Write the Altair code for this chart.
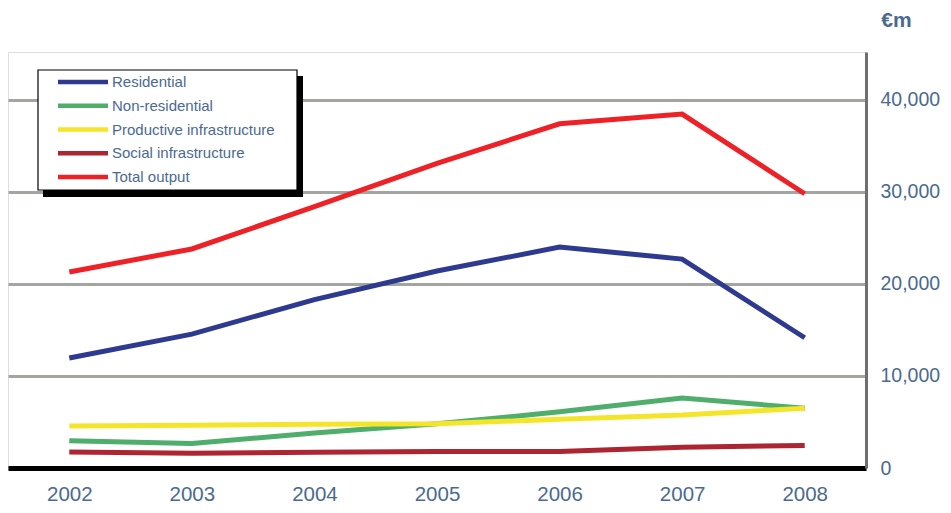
import altair as alt
import pandas as pd

years = ["2002", "2003", "2004", "2005", "2006", "2007", "2008"]
series_names = ["Residential", "Non-residential", "Productive infrastructure",
                "Social infrastructure", "Total output"]
series_colors = ["#2e3a8f", "#4fae6c", "#f5e52a", "#ac2530", "#ee2127"]

residential = [11950, 14550, 18300, 21400, 24000, 22700, 14150]
non_residential = [2950, 2650, 3800, 4800, 6100, 7600, 6500]
productive = [4550, 4650, 4750, 4800, 5300, 5750, 6500]
social = [1750, 1600, 1700, 1800, 1800, 2250, 2450]
total_output = [21300, 23800, 28400, 33100, 37400, 38450, 29800]

values = [residential, non_residential, productive, social, total_output]

rows = []
for name, vals in zip(series_names, values):
    for y, v in zip(years, vals):
        rows.append({"year": y, "series": name, "value": v})
df = pd.DataFrame(rows)

legend_df = pd.DataFrame({"series": series_names, "row": list(range(len(series_names)))})

text_color = "#4b6a8f"
color_scale = alt.Scale(domain=series_names, range=series_colors)

lines = alt.Chart(df).mark_line(strokeWidth=5).encode(
    x=alt.X("year:O", sort=years,
            axis=alt.Axis(title=None, labelAngle=0, ticks=False, domain=True,
                          domainColor="#000000", domainWidth=5, grid=False,
                          labelFontSize=20.5, labelColor=text_color, labelPadding=16,
                          labelFont="Liberation Sans")),
    y=alt.Y("value:Q", scale=alt.Scale(domain=[0, 45200], nice=False),
            axis=alt.Axis(orient="right", values=[0, 10000, 20000, 30000, 40000],
                          format=",.0f", ticks=False, domain=True, domainColor="#6e706e",
                          domainWidth=3, grid=True, gridColor="#a2a6a0", gridWidth=3,
                          labelAlign="left", labelPadding=14, labelFontSize=19.5,
                          labelColor=text_color, labelFont="Liberation Sans",
                          title="€m", titleAngle=0, titleX=30, titleY=-32,
                          titleAlign="center", titleBaseline="middle",
                          titleFontSize=21, titleFontWeight="bold",
                          titleColor=text_color, titleFont="Liberation Sans")),
    color=alt.Color("series:N", scale=color_scale, legend=None),
    order=alt.Order("series:N"),
)

one = pd.DataFrame({"a": [0]})
shadow = alt.Chart(one).mark_rect(fill="#000000").encode(
    x=alt.value(35), x2=alt.value(295), y=alt.value(24), y2=alt.value(145))
box = alt.Chart(one).mark_rect(fill="#ffffff", stroke="#000000", strokeWidth=1.2).encode(
    x=alt.value(30), x2=alt.value(289), y=alt.value(18), y2=alt.value(138))

leg_y = alt.Y("row:Q", scale=alt.Scale(domain=[0, 4], range=[30, 125]), axis=None)
leg_lines = alt.Chart(legend_df).mark_rule(strokeWidth=4.5).encode(
    x=alt.value(50), x2=alt.value(100), y=leg_y,
    color=alt.Color("series:N", scale=color_scale, legend=None))
leg_text = alt.Chart(legend_df).mark_text(
    align="left", baseline="middle", fontSize=15, color=text_color,
    font="Liberation Sans").encode(
    x=alt.value(104), y=leg_y, text="series:N")

chart = alt.layer(lines, shadow, box, leg_lines, leg_text).resolve_scale(
    y="independent", x="independent"
).properties(
    width=858, height=416,
    autosize=alt.AutoSizeParams(type="none"),
    padding={"left": 0, "top": 44, "right": 77, "bottom": 37},
).configure_view(fill="#dfe6d3", strokeWidth=0).configure(background="#ffffff")

chart.save("out.html", embed_options={"renderer": "svg", "actions": False})
